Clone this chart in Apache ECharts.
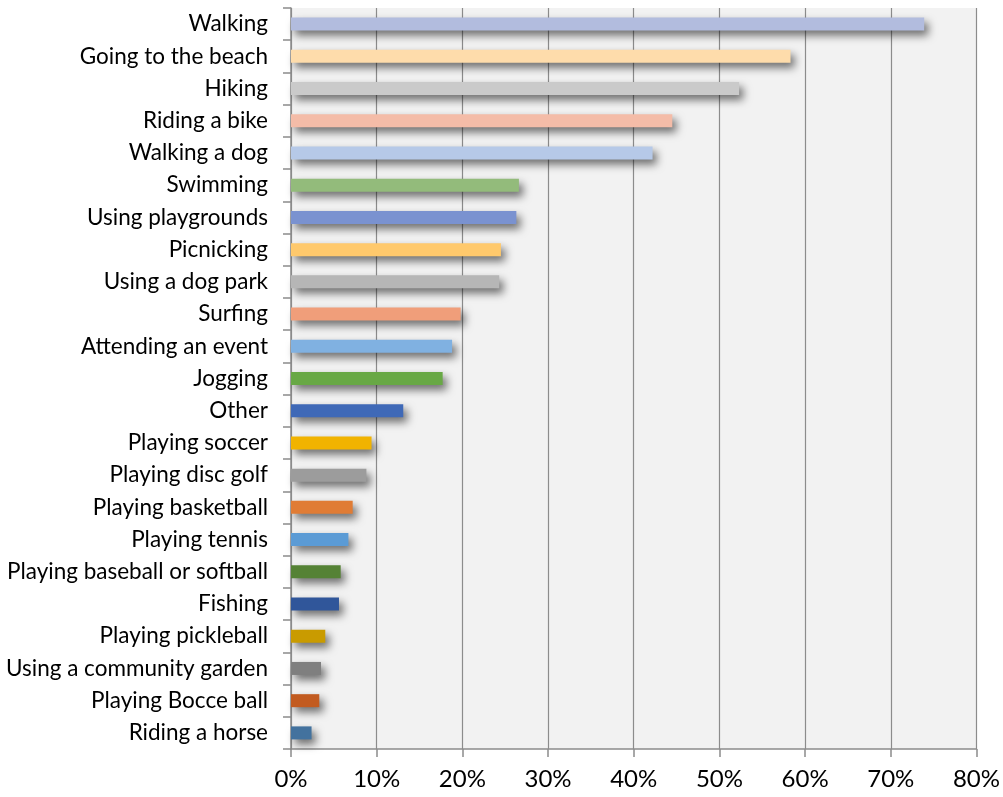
<!DOCTYPE html>
<html><head><meta charset="utf-8">
<script src="https://cdn.jsdelivr.net/npm/echarts@6/dist/echarts.min.js"></script>
<style>html,body{margin:0;padding:0;background:#fff}#c{width:1003px;height:797px}</style>
</head><body><div id="c"></div>
<script>
const categories = ["Walking","Going to the beach","Hiking","Riding a bike","Walking a dog","Swimming","Using playgrounds","Picnicking","Using a dog park","Surfing","Attending an event","Jogging","Other","Playing soccer","Playing disc golf","Playing basketball","Playing tennis","Playing baseball or softball","Fishing","Playing pickleball","Using a community garden","Playing Bocce ball","Riding a horse"];
const values = [73.9,58.3,52.3,44.5,42.2,26.6,26.3,24.5,24.3,19.8,18.8,17.7,13.1,9.4,8.8,7.2,6.7,5.8,5.6,4.0,3.5,3.3,2.4];
const colors = ["#b2bcde","#fedcab","#cacaca","#f4bca8","#b6c9e8","#93bb7b","#7a92d0","#ffc96c","#b6b6b6","#f09e7a","#80b1e1","#68a845","#3f69b7","#f1b300","#9c9c9c","#e07c35","#5b9bd5","#558235","#30569a","#c99b00","#7f7f7f","#c25b20","#43729e"];
const xTicks = [0,10,20,30,40,50,60,70,80];

const chart = echarts.init(document.getElementById('c'));
chart.setOption({
  animation:false,
  grid:{left:291,right:24,top:8,bottom:48,show:true,backgroundColor:'#f2f2f2',borderWidth:0},
  xAxis:{type:'value',min:xTicks[0],max:xTicks[xTicks.length-1],interval:10,
    axisLine:{show:true,lineStyle:{color:'#8c8c8c',width:1.5}},
    axisTick:{show:true,length:8,lineStyle:{color:'#8c8c8c',width:1.5}},
    splitLine:{show:true,lineStyle:{color:'#8c8c8c',width:1.2}},
    axisLabel:{formatter:'{value}%',fontFamily:'Lato',fontSize:24,color:'#000',margin:18}},
  yAxis:{type:'category',data:categories,inverse:true,
    axisLine:{show:true,lineStyle:{color:'#8c8c8c',width:1.5}},
    axisTick:{show:true,length:8,lineStyle:{color:'#8c8c8c',width:1.5}},
    axisLabel:{fontFamily:'Lato',fontSize:22.5,color:'#000',margin:23}},
  series:[{type:'bar',barWidth:13,
    data:values.map((v,i)=>({value:v,itemStyle:{color:colors[i]}})),
    itemStyle:{shadowBlur:8,shadowOffsetX:4,shadowOffsetY:5,shadowColor:'rgba(0,0,0,0.55)'}}]
});
</script></body></html>
